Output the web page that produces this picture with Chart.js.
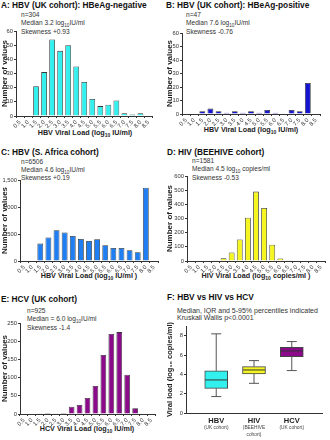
<!DOCTYPE html>
<html>
<head>
<meta charset="utf-8">
<script src="https://cdn.jsdelivr.net/npm/chart.js@4.4.1/dist/chart.umd.min.js"></script>
<style>
  body { margin: 0; width: 330px; height: 440px; background: #fff; position: relative; overflow: hidden;
         font-family: "Liberation Sans", Arial, sans-serif; color: #222; }
  .t { position: absolute; white-space: nowrap; }
  .title { font-weight: bold; font-size: 8.3px; line-height: 10px; color: #111; }
  .note { font-size: 6.6px; line-height: 8.7px; color: #333; }
  .xt { font-weight: bold; font-size: 7.2px; line-height: 9px; transform: translateX(-50%); color: #222; }
  sub { font-size: 70%; line-height: 0; vertical-align: -1.5px; }
  canvas { position: absolute; }
</style>
</head>
<body>
<div class="t title" style="left:1px;top:0px">A: HBV (UK cohort): HBeAg-negative</div>
<div class="t title" style="left:166px;top:0px">B: HBV (UK cohort): HBeAg-positive</div>
<div class="t title" style="left:1px;top:147px">C: HBV (S. Africa cohort)</div>
<div class="t title" style="left:167px;top:147px">D: HIV (BEEHIVE cohort)</div>
<div class="t title" style="left:1px;top:294px">E: HCV (UK cohort)</div>
<div class="t title" style="left:167px;top:292px">F: HBV vs HIV vs HCV</div>

<div class="t note" style="left:21px;top:10.5px">n=304<br>Median 3.2 log<sub>10</sub>IU/ml<br>Skewness +0.93</div>
<div class="t note" style="left:186px;top:10.5px">n=47<br>Median 7.6 log<sub>10</sub>IU/ml<br>Skewness -0.76</div>
<div class="t note" style="left:21px;top:157.5px;line-height:8.3px">n=6506<br>Median 4.6 log<sub>10</sub>IU/ml<br>Skewness +0.19</div>
<div class="t note" style="left:192px;top:156.5px">n=1581<br>Median 4.5 log<sub>10</sub> copies/ml<br>Skewness -0.53</div>
<div class="t note" style="left:27px;top:306.5px;line-height:8.5px">n=925<br>Median = 6.0 log<sub>10</sub>IU/ml<br>Skewness -1.4</div>
<div class="t note" style="left:177px;top:307px;line-height:7px;font-size:7px">Median, IQR and 5-95% percentiles indicated<br>Kruskall Wallis p&lt;0.0001</div>

<div class="t xt" style="left:85px;top:127.5px">HBV Viral Load (log<sub>10</sub> IU/ml)</div>
<div class="t xt" style="left:251px;top:125px">HBV Viral Load (log<sub>10</sub> IU/ml)</div>
<div class="t xt" style="left:89px;top:271px">HBV Viral Load (log<sub>10</sub> IU/ml )</div>
<div class="t xt" style="left:256px;top:271px">HIV Viral Load (log<sub>10</sub> copies/ml )</div>
<div class="t xt" style="left:87px;top:423.5px">HCV Viral Load (log<sub>10</sub> IU/ml)</div>

<script>
const loadBins = ['0.5', '1.0', '1.5', '2.0', '2.5', '3.0', '3.5', '4.0', '4.5',
                  '5.0', '5.5', '6.0', '6.5', '7.0', '7.5', '8.0', '8.5'];

const hbvNegCounts = [0, 0, 21, 31, 54, 46, 50, 35, 24, 12, 7, 8, 11, 2, 1, 2, 0];
const hbvPosCounts = [0, 0, 2, 4, 2, 1, 2, 1, 2, 1, 3, 1, 0, 3, 2, 23, 0];
const hbvSaCounts = [0, 0, 322, 434, 570, 527, 465, 409, 372, 403, 291, 242, 242, 198, 161, 1358, 8];
const hivCounts = [0, 0, 0, 5, 20, 60, 152, 305, 490, 375, 115, 18, 2, 0, 0, 0, 0];
const hcvCounts = [0, 0, 2, 3, 2, 3, 20, 25, 44, 77, 162, 220, 225, 108, 16, 0, 0];

const boxNames = ['HBV', 'HIV', 'HCV'];
const boxGroups = [['(UK cohort)'], ['(BEEHIVE', 'cohort)'], ['(UK cohort)']];
const whiskerLow = [1.7, 3.07, 4.39];
const boxQ1 = [2.55, 4.04, 5.84];
const boxMedian = [3.42, 4.45, 6.42];
const boxQ3 = [4.35, 4.8, 6.8];
const whiskerHigh = [8.19, 5.42, 7.39];

const FONT = '"Liberation Sans", Arial, sans-serif';
const AXIS = '#333';

const makeCanvas = (x, y, w, h) => {
  const c = document.createElement('canvas');
  c.width = w; c.height = h;
  c.style.left = x + 'px'; c.style.top = y + 'px';
  c.style.width = w + 'px'; c.style.height = h + 'px';
  document.body.appendChild(c);
  return c.getContext('2d');
};

// box = canvas rect, yw = y axis width, xh = x axis height, pt/pr = padding top/right
const histogram = (counts, color, yMax, yStep, box) => {
  const ctx = makeCanvas(box.x, box.y, box.w, box.h);
  return new Chart(ctx, {
    type: 'bar',
    data: {
      labels: loadBins,
      datasets: [{
        data: counts,
        backgroundColor: color,
        borderColor: '#333',
        borderWidth: 0.8,
        barPercentage: 0.72,
        categoryPercentage: 1
      }]
    },
    options: {
      responsive: false,
      animation: false,
      layout: { padding: { top: box.pt, right: box.pr, left: 0, bottom: 0 } },
      plugins: { legend: { display: false }, tooltip: { enabled: false } },
      scales: {
        x: {
          grid: { display: true, drawOnChartArea: false, tickLength: 2, color: AXIS },
          border: { color: AXIS, width: 1 },
          ticks: { autoSkip: false, minRotation: 45, maxRotation: 45, padding: 1,
                   color: '#333', font: { family: FONT, size: 5.8 } },
          afterFit: s => { s.height = box.xh; }
        },
        y: {
          min: 0, max: yMax,
          grid: { display: true, drawOnChartArea: false, tickLength: 2, color: AXIS },
          border: { color: AXIS, width: 1 },
          ticks: { stepSize: yStep, padding: 1, color: '#333', font: { family: FONT, size: 5.8 } },
          title: { display: true, text: 'Number of values', color: '#222', padding: 0,
                   font: { family: FONT, size: 8, weight: 'bold' } },
          afterFit: s => { s.width = box.yw; }
        }
      }
    }
  });
};

histogram(hbvNegCounts, '#33F0EE', 60, 10, { x: 0, y: 26, w: 156, h: 103, yw: 16, xh: 13, pt: 5, pr: 3.5 });
histogram(hbvPosCounts, '#1414D2', 60, 10, { x: 165, y: 28, w: 158, h: 99, yw: 17, xh: 13, pt: 5, pr: 3 });
histogram(hbvSaCounts, '#1E7EF2', 1500, 500, { x: 0, y: 175, w: 161, h: 99, yw: 20, xh: 13, pt: 5, pr: 3 });
histogram(hivCounts, '#F5F522', 600, 100, { x: 165, y: 171, w: 163, h: 103, yw: 22, xh: 13, pt: 5, pr: 3 });
histogram(hcvCounts, '#8A0A8A', 250, 50, { x: 0, y: 318, w: 158, h: 109, yw: 20, xh: 13, pt: 5, pr: 3 });

const whiskerPlugin = {
  id: 'whiskers',
  afterDatasetsDraw(chart) {
    const { ctx, chartArea, scales: { x, y } } = chart;
    ctx.save();
    boxNames.forEach((name, i) => {
      const cx = x.getPixelForValue(i);
      ctx.strokeStyle = '#555';
      ctx.lineWidth = 1;
      ctx.beginPath();
      ctx.moveTo(cx, y.getPixelForValue(whiskerHigh[i]));
      ctx.lineTo(cx, y.getPixelForValue(boxQ3[i]));
      ctx.moveTo(cx, y.getPixelForValue(boxQ1[i]));
      ctx.lineTo(cx, y.getPixelForValue(whiskerLow[i]));
      [whiskerHigh[i], whiskerLow[i]].forEach(v => {
        const py = y.getPixelForValue(v);
        ctx.moveTo(cx - 5, py);
        ctx.lineTo(cx + 5, py);
      });
      ctx.stroke();

      const my = y.getPixelForValue(boxMedian[i]);
      ctx.strokeStyle = '#333';
      ctx.beginPath();
      ctx.moveTo(cx - 11, my);
      ctx.lineTo(cx + 11, my);
      ctx.stroke();

      ctx.fillStyle = '#444';
      ctx.font = '4.8px ' + FONT;
      ctx.textAlign = 'center';
      ctx.textBaseline = 'middle';
      boxGroups[i].forEach((line, k) => ctx.fillText(line, cx, chartArea.bottom + 15 + k * 7));
    });
    ctx.restore();
  }
};

const fCtx = makeCanvas(165, 321, 160, 119);
new Chart(fCtx, {
  type: 'bar',
  data: {
    datasets: [{
      data: boxQ1.map((q1, i) => ({ x: i, y: [q1, boxQ3[i]] })),
      backgroundColor: ['#33F0EE', '#F5F522', '#8A0A8A'],
      borderColor: '#444',
      borderWidth: 1,
      borderSkipped: false,
      barThickness: 23
    }]
  },
  options: {
    responsive: false,
    animation: false,
    layout: { padding: { top: 5, right: 3, left: 0, bottom: 0 } },
    plugins: { legend: { display: false }, tooltip: { enabled: false } },
    scales: {
      x: {
        type: 'linear', min: -0.8, max: 2.8, offset: false,
        afterBuildTicks: s => { s.ticks = boxNames.map((n, i) => ({ value: i })); },
        grid: { display: false, drawTicks: false },
        border: { color: AXIS, width: 1 },
        ticks: { padding: 3, color: '#222', callback: v => boxNames[v],
                 font: { family: FONT, size: 7.5, weight: 'bold' } },
        afterFit: s => { s.height = 27; }
      },
      y: {
        min: 0, max: 9,
        grid: { display: true, drawOnChartArea: false, tickLength: 2, color: AXIS },
        border: { color: AXIS, width: 1 },
        ticks: { stepSize: 1, padding: 1, color: '#333', font: { family: FONT, size: 5.8 } },
        title: { display: true, text: 'Viral load (log\u2081\u2080 copies/ml)', color: '#222', padding: 0,
                 font: { family: FONT, size: 7.5, weight: 'bold' } },
        afterFit: s => { s.width = 21; }
      }
    }
  },
  plugins: [whiskerPlugin]
});
</script>
</body>
</html>
